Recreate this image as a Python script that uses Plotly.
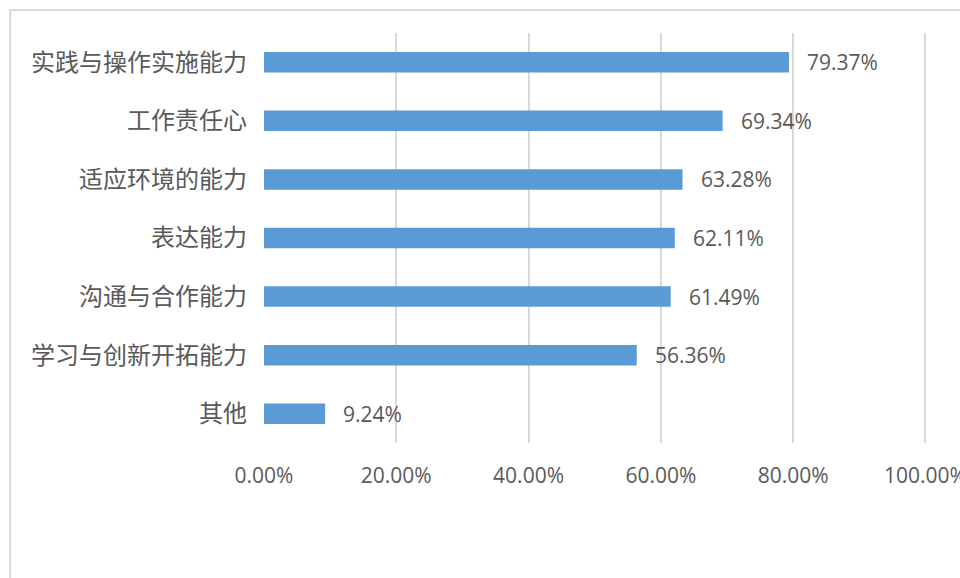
import plotly.graph_objects as go

# Abilities (top to bottom) and share of respondents
categories = ["实践与操作实施能力", "工作责任心", "适应环境的能力", "表达能力",
              "沟通与合作能力", "学习与创新开拓能力", "其他"]
values = [79.37, 69.34, 63.28, 62.11, 61.49, 56.36, 9.24]
tick_vals = [0, 20, 40, 60, 80, 100]
tick_text = ["0.00%", "20.00%", "40.00%", "60.00%", "80.00%", "100.00%"]

BAR = "#5B9BD5"
GRID = "#D9D9D9"
TXT = "#595959"
NUM_FONT = "Open Sans, Liberation Sans, sans-serif"
CJK_FONT = "Noto Sans CJK SC, sans-serif"

fig = go.Figure(go.Bar(
    x=values,
    y=categories,
    orientation="h",
    marker=dict(color=BAR, line=dict(width=0)),
    hoverinfo="skip",
))

# Value labels to the right of each bar
for c, v in zip(categories, values):
    fig.add_annotation(
        x=v, y=c, text=f"{v:.2f}%", showarrow=False,
        xanchor="left", yanchor="middle", xshift=16,
        font=dict(family=NUM_FONT, size=21, color=TXT),
    )

# Outer chart frame
fig.add_shape(
    type="rect", xref="paper", yref="paper",
    x0=-0.38, x1=2.0, y0=-2.0, y1=1.0561,
    line=dict(color=GRID, width=2), fillcolor="rgba(0,0,0,0)", layer="below",
)

fig.update_layout(
    width=960, height=578,
    margin=dict(l=263.5, r=28.1, t=33, b=135, pad=0, autoexpand=False),
    paper_bgcolor="white", plot_bgcolor="white",
    bargap=0.65,
    showlegend=False,
    xaxis=dict(
        range=[0, 101], tickvals=tick_vals, ticktext=tick_text,
        showgrid=True, gridcolor=GRID, gridwidth=2, zeroline=False,
        showline=False, ticks="", ticklabelstandoff=18,
        ticklabeloverflow="allow", automargin=False,
        tickfont=dict(family=NUM_FONT, size=21, color=TXT),
        fixedrange=True,
    ),
    yaxis=dict(
        categoryorder="array", categoryarray=categories[::-1],
        showgrid=False, zeroline=False, showline=False, ticks="",
        ticklabelstandoff=16, automargin=False,
        tickfont=dict(family=CJK_FONT, size=24, color=TXT),
        fixedrange=True,
    ),
)

fig.write_html("out.html")
